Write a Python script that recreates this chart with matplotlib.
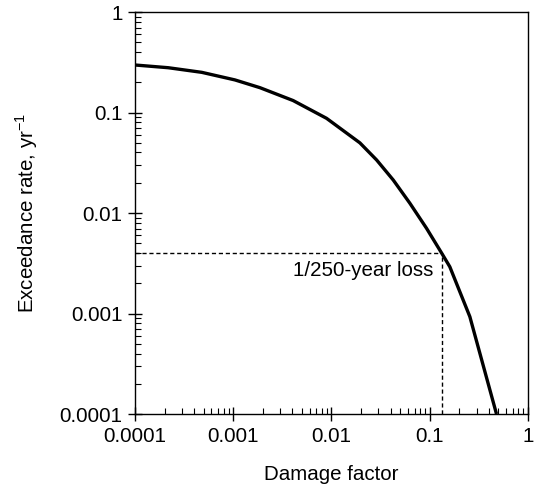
"""Loss exceedance curve with the 1/250-year loss marked."""

import matplotlib.pyplot as plt
from matplotlib.ticker import LogLocator, FixedFormatter, FixedLocator, NullFormatter

plt.rcParams["font.family"] = ["Liberation Sans", "DejaVu Sans"]
plt.rcParams["mathtext.fontset"] = "custom"
plt.rcParams["mathtext.rm"] = "Liberation Sans"

# exceedance curve (damage factor vs annual exceedance rate)
damage_factor = [1e-4, 2.18e-4, 4.78e-4, 1.04e-3, 1.87e-3, 4.07e-3, 8.91e-3,
                 0.01945, 0.0288, 0.0425, 0.0628, 0.0927, 0.132, 0.160,
                 0.256, 0.478]
exceed_rate = [0.297, 0.279, 0.251, 0.211, 0.1766, 0.1315, 0.0875,
               0.0499, 0.0337, 0.0213, 0.0125, 0.00705, 0.0040, 0.00292,
               9.3e-4, 1.0e-4]

# return period of interest and the loss
return_rate = 1 / 250
loss_at_rate = 0.132

tick_values = [1e-4, 1e-3, 1e-2, 1e-1, 1]
x_tick_labels = ["0.0001", "0.001", "0.01", "0.1", "1"]
y_tick_labels = ["0.0001", "0.001", "0.01", "0.1", "1"]

fig = plt.figure(figsize=(5.38, 4.96), dpi=100)
ax = fig.add_axes([0.2509, 0.1653, 0.7305, 0.8105])

ax.plot(damage_factor, exceed_rate, color="black", lw=2.4,
        solid_capstyle="butt", solid_joinstyle="round")
ax.set_xscale("log")
ax.set_yscale("log")
ax.set_xlim(1e-4, 1)
ax.set_ylim(1e-4, 1)

# dashed guide lines
ax.plot([1e-4, loss_at_rate], [return_rate, return_rate], color="black",
        lw=1.0, linestyle=(0, (3, 2)))
ax.plot([loss_at_rate, loss_at_rate], [1e-4, return_rate], color="black",
        lw=1.0, linestyle=(0, (3, 2)))
ax.annotate("1/250-year loss", xy=(loss_at_rate, 0.00267),
            xytext=(-6, 0), textcoords="offset points",
            ha="right", va="center", fontsize=14.8)

# ticks
for axis in (ax.xaxis, ax.yaxis):
    axis.set_major_locator(FixedLocator(tick_values))
    axis.set_minor_locator(LogLocator(base=10, subs=range(2, 10)))
    axis.set_minor_formatter(NullFormatter())
ax.xaxis.set_major_formatter(FixedFormatter(x_tick_labels))
ax.yaxis.set_major_formatter(FixedFormatter(y_tick_labels))
ax.tick_params(which="major", direction="inout", length=10, width=1,
               labelsize=14.8, pad=4)
ax.tick_params(which="minor", direction="in", length=4, width=0.8)
ax.tick_params(top=False, right=False, which="both")

for side in ax.spines.values():
    side.set_linewidth(1.0)

ax.set_xlabel("Damage factor", fontsize=14.8, labelpad=14)
ax.set_ylabel("Exceedance rate, yr$^{\\mathregular{-1}}$", fontsize=14.8,
              labelpad=14)

fig.savefig("out.png", dpi=100)
